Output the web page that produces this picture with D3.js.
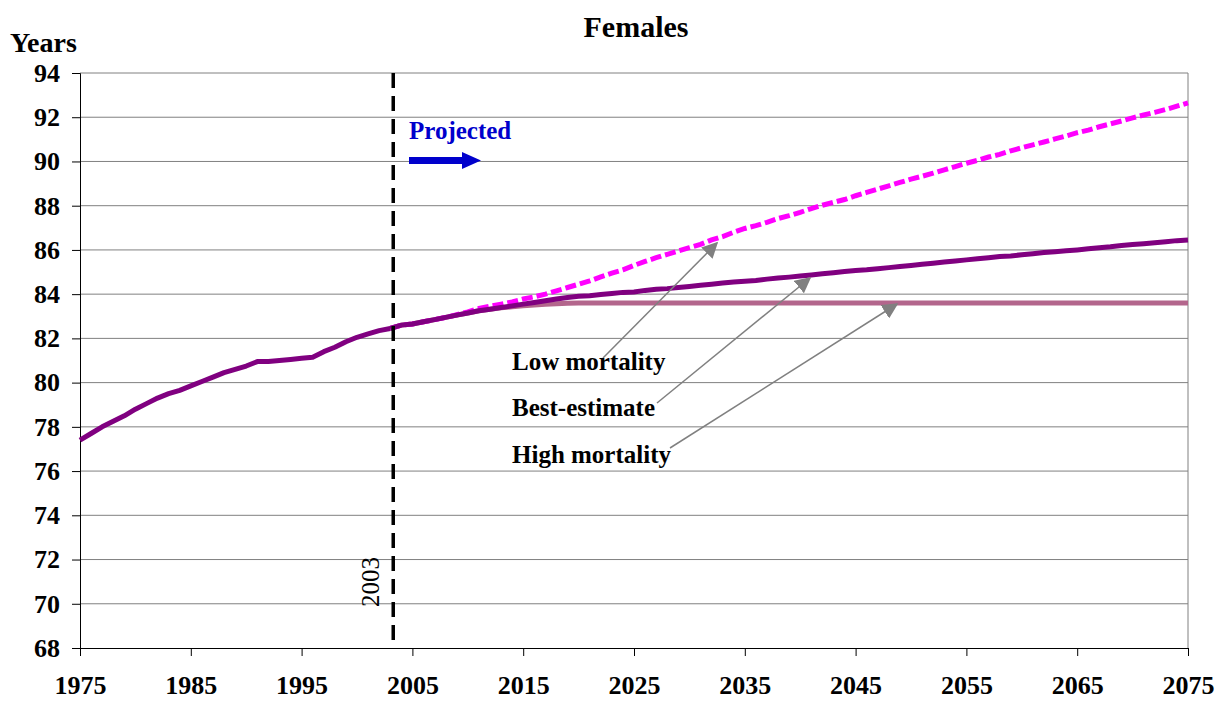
<!DOCTYPE html>
<html>
<head>
<meta charset="utf-8">
<script src="https://cdn.jsdelivr.net/npm/d3@7"></script>
<style>
  body { margin: 0; background: #fff; }
  text { font-family: "Liberation Serif", "Times New Roman", serif; }
</style>
</head>
<body>
<div id="chart"></div>
<script>
// data
var histYears = d3.range(1975, 2004);
var histValues = [77.4, 77.7, 78.0, 78.25, 78.5, 78.8, 79.05, 79.3, 79.5, 79.65,
  79.85, 80.05, 80.25, 80.45, 80.6, 80.75, 80.95, 80.95, 81.0, 81.05,
  81.1, 81.15, 81.4, 81.6, 81.85, 82.05, 82.2, 82.35, 82.45];

var projYears = d3.range(2003, 2076);
var bestValues = [82.45, 82.6, 82.65, 82.75, 82.85, 82.95, 83.05, 83.15, 83.25, 83.32,
  83.4, 83.47, 83.55, 83.62, 83.7, 83.78, 83.85, 83.9, 83.93, 83.98,
  84.03, 84.08, 84.1, 84.17, 84.22, 84.25, 84.3, 84.35, 84.4, 84.45,
  84.5, 84.55, 84.58, 84.62, 84.68, 84.73, 84.77, 84.82, 84.87, 84.92,
  84.97, 85.02, 85.07, 85.1, 85.15, 85.2, 85.25, 85.3, 85.35, 85.4,
  85.45, 85.5, 85.55, 85.6, 85.65, 85.7, 85.73, 85.78, 85.83, 85.88,
  85.92, 85.96, 86.0, 86.05, 86.1, 86.14, 86.2, 86.24, 86.28, 86.32,
  86.37, 86.42, 86.45];
var lowValues = [82.45, 82.6, 82.65, 82.75, 82.85, 82.95, 83.07, 83.2, 83.35, 83.45,
  83.55, 83.65, 83.78, 83.88, 84.0, 84.15, 84.3, 84.45, 84.6, 84.78,
  84.95, 85.1, 85.3, 85.48, 85.65, 85.8, 85.95, 86.1, 86.25, 86.45,
  86.6, 86.8, 86.97, 87.1, 87.25, 87.42, 87.55, 87.7, 87.87, 88.02,
  88.15, 88.28, 88.45, 88.6, 88.75, 88.9, 89.05, 89.2, 89.33, 89.47,
  89.62, 89.77, 89.92, 90.05, 90.2, 90.32, 90.48, 90.62, 90.75, 90.88,
  91.02, 91.15, 91.3, 91.42, 91.57, 91.7, 91.83, 91.97, 92.1, 92.22,
  92.35, 92.5, 92.65];
var highValues = [82.45, 82.6, 82.65, 82.75, 82.85, 82.95, 83.05, 83.15, 83.25, 83.32,
  83.38, 83.43, 83.47, 83.51, 83.54, 83.57, 83.59, 83.6, 83.6, 83.6,
  83.6, 83.6, 83.6, 83.6, 83.6, 83.6, 83.6, 83.6, 83.6, 83.6,
  83.6, 83.6, 83.6, 83.6, 83.6, 83.6, 83.6, 83.6, 83.6, 83.6,
  83.6, 83.6, 83.6, 83.6, 83.6, 83.6, 83.6, 83.6, 83.6, 83.6,
  83.6, 83.6, 83.6, 83.6, 83.6, 83.6, 83.6, 83.6, 83.6, 83.6,
  83.6, 83.6, 83.6, 83.6, 83.6, 83.6, 83.6, 83.6, 83.6, 83.6,
  83.6, 83.6, 83.6];

var xTicks = d3.range(1975, 2076, 10);
var yTicks = d3.range(68, 95, 2);
var markerYear = 2003;

var width = 1225;
var height = 702;
var margin = {top: 73, right: 37, bottom: 54, left: 80};

var svg = d3.select("#chart")
    .append("svg")
    .attr("width", width)
    .attr("height", height);

var x = d3.scaleLinear().domain([1975, 2075]).range([margin.left, width - margin.right]);
var y = d3.scaleLinear().domain([68, 94]).range([height - margin.bottom, margin.top]);

// gridlines
svg.append("g")
  .selectAll("line")
  .data(yTicks.slice(1))
  .join("line")
    .attr("x1", margin.left)
    .attr("x2", width - margin.right)
    .attr("y1", d => y(d))
    .attr("y2", d => y(d))
    .attr("stroke", "#808080")
    .attr("stroke-width", 1);

// right border
svg.append("line")
    .attr("x1", width - margin.right).attr("x2", width - margin.right)
    .attr("y1", margin.top).attr("y2", height - margin.bottom)
    .attr("stroke", "#808080");

// axes
var yAxis = svg.append("g")
    .attr("transform", `translate(${margin.left},0)`)
    .call(d3.axisLeft(y).tickValues(yTicks).tickSize(8).tickPadding(12))
yAxis.selectAll("text")
    .attr("font-size", 26).attr("font-weight", "bold").attr("fill", "#000")
    .style("font-family", "'Liberation Serif', serif");

var xAxis = svg.append("g")
    .attr("transform", `translate(0,${height - margin.bottom})`)
    .call(d3.axisBottom(x).tickValues(xTicks).tickFormat(d3.format("d")).tickSize(8).tickPadding(20))
xAxis.selectAll("text")
    .attr("font-size", 26).attr("font-weight", "bold").attr("fill", "#000")
    .style("font-family", "'Liberation Serif', serif");
xAxis.selectAll(".tick line").attr("stroke", "#000");

// lines
var line = d3.line().x(d => x(d[0])).y(d => y(d[1]));
var pairs = (ys, vs) => ys.map((yr, i) => [yr, vs[i]]);

svg.append("path")
    .datum(pairs(projYears, highValues))
    .attr("d", line)
    .attr("fill", "none")
    .attr("stroke", "#B3668C")
    .attr("stroke-width", 5);

svg.append("path")
    .datum(pairs(projYears, lowValues))
    .attr("d", line)
    .attr("fill", "none")
    .attr("stroke", "#FF00FF")
    .attr("stroke-width", 5)
    .attr("stroke-dasharray", "11,4");

svg.append("path")
    .datum(pairs(projYears, bestValues))
    .attr("d", line)
    .attr("fill", "none")
    .attr("stroke", "#800080")
    .attr("stroke-width", 5);

svg.append("path")
    .datum(pairs(histYears, histValues))
    .attr("d", line)
    .attr("fill", "none")
    .attr("stroke", "#800080")
    .attr("stroke-width", 5)
    .attr("stroke-linejoin", "round");

// 2003 marker
svg.append("line")
    .attr("x1", x(markerYear) + 3).attr("x2", x(markerYear) + 3)
    .attr("y1", margin.top).attr("y2", height - margin.bottom)
    .attr("stroke", "#000")
    .attr("stroke-width", 3.5)
    .attr("stroke-dasharray", "15,8");

svg.append("text")
    .attr("transform", `translate(${x(markerYear) - 11},582) rotate(-90)`)
    .attr("text-anchor", "middle")
    .attr("font-size", 25)
    .text(markerYear);

// projected
svg.append("text")
    .attr("x", 409).attr("y", 139)
    .attr("font-size", 25).attr("font-weight", "bold")
    .attr("fill", "#0000CC")
    .text("Projected");
svg.append("path")
    .attr("d", "M409,157 L462,157 L462,152 L481,160.5 L462,169 L462,164 L409,164 Z")
    .attr("fill", "#0000CC");

// title
svg.append("text")
    .attr("x", 636).attr("y", 37)
    .attr("text-anchor", "middle")
    .attr("font-size", 30).attr("font-weight", "bold")
    .text("Females");

svg.append("text")
    .attr("x", 10).attr("y", 52)
    .attr("font-size", 28).attr("font-weight", "bold")
    .text("Years");

// scenario labels with arrows
var labels = [
  {name: "Low mortality", ty: 370, from: [603, 358], to: [717, 243]},
  {name: "Best-estimate", ty: 416, from: [657, 403], to: [810, 278]},
  {name: "High mortality", ty: 463, from: [670, 448], to: [897, 304]}
];

svg.append("defs").append("marker")
    .attr("id", "head")
    .attr("viewBox", "0 0 10 10")
    .attr("refX", 9).attr("refY", 5)
    .attr("markerWidth", 16).attr("markerHeight", 16)
    .attr("markerUnits", "userSpaceOnUse")
    .attr("orient", "auto")
  .append("path")
    .attr("d", "M0,0 L10,5 L0,10 z")
    .attr("fill", "#808080");

svg.append("g")
  .selectAll("line")
  .data(labels)
  .join("line")
    .attr("x1", d => d.from[0]).attr("y1", d => d.from[1])
    .attr("x2", d => d.to[0]).attr("y2", d => d.to[1])
    .attr("stroke", "#808080")
    .attr("stroke-width", 1.5)
    .attr("marker-end", "url(#head)");

svg.append("g")
  .selectAll("text")
  .data(labels)
  .join("text")
    .attr("x", 512).attr("y", d => d.ty)
    .attr("font-size", 25).attr("font-weight", "bold")
    .text(d => d.name);
</script>
</body>
</html>
